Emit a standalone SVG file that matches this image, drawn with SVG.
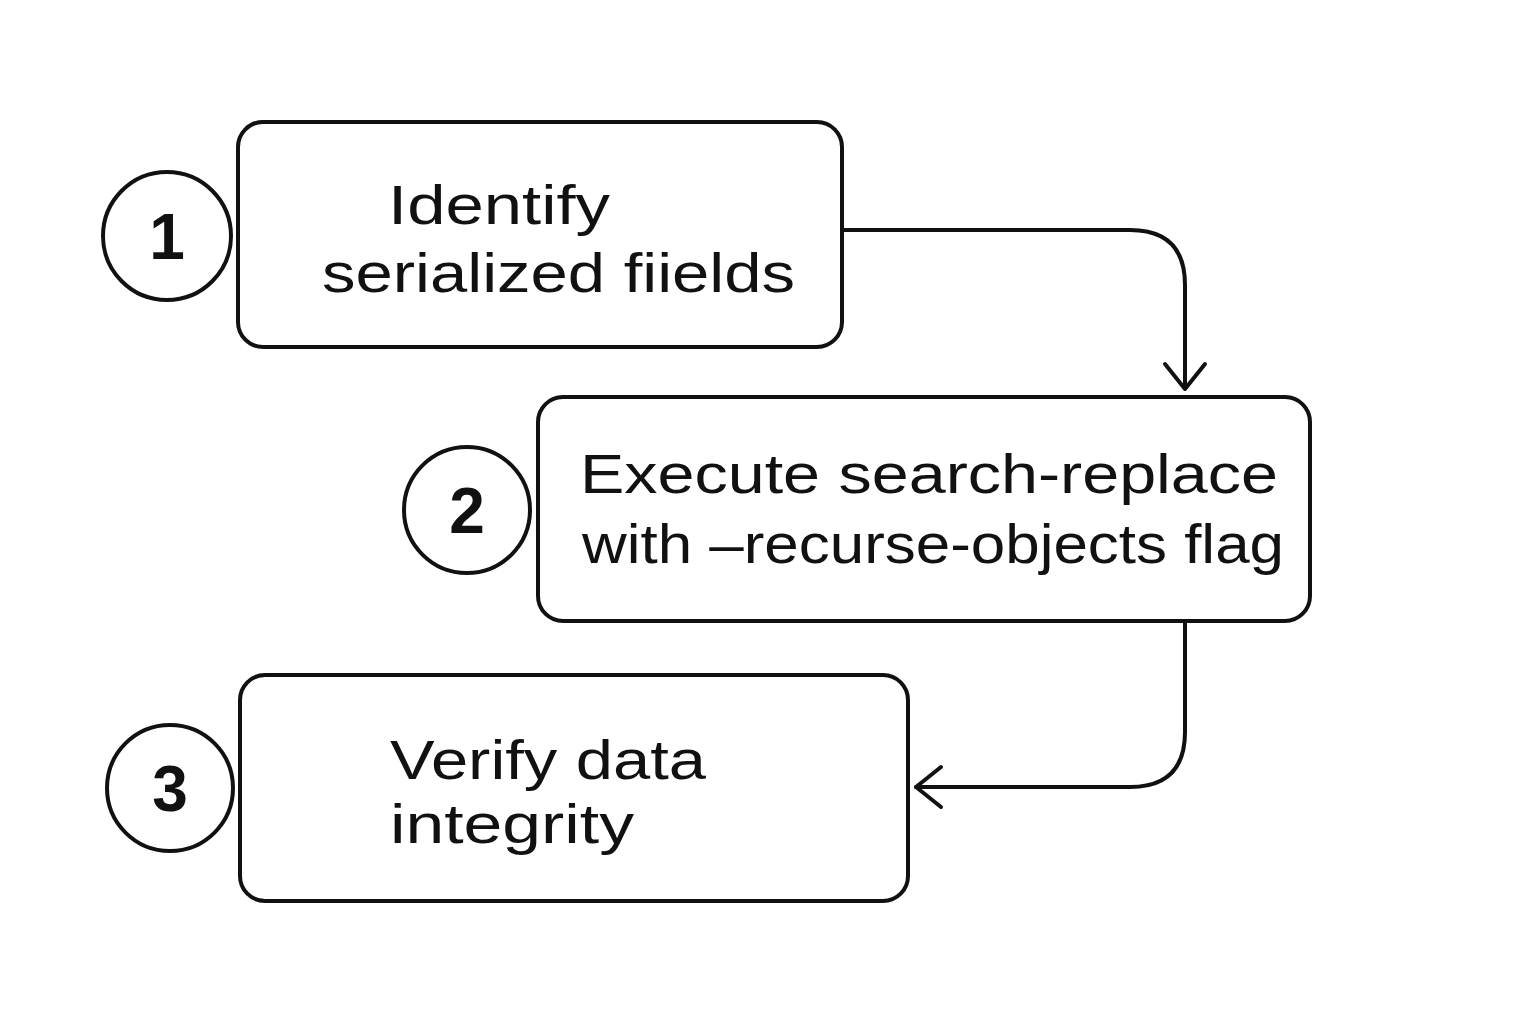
<svg xmlns="http://www.w3.org/2000/svg" width="1536" height="1024" viewBox="0 0 1536 1024">
<style>
.b{fill:#fff;stroke:#111;stroke-width:4}
.t{font-family:"Liberation Sans",Arial,sans-serif;font-size:56px;fill:#111;font-weight:500}
.n{font-family:"Liberation Sans",Arial,sans-serif;font-size:64px;fill:#111;font-weight:bold;text-anchor:middle}
.c{fill:none;stroke:#111;stroke-width:4;stroke-linecap:round;stroke-linejoin:round}
</style>
<rect width="1536" height="1024" fill="#fff"/>
<g id="connectors">
<path class="c" d="M842 230 H1130 Q1185 230 1185 285 V388"/>
<path class="c" d="M1165 364 L1185 389 L1205 364"/>
<path class="c" d="M1185 621 V732 Q1185 787 1130 787 H916"/>
<path class="c" d="M941 767 L916 787 L941 807"/>
</g>
<g id="step1">
<circle class="b" cx="167" cy="236" r="64"/>
<text class="n" x="167" y="259">1</text>
<rect class="b" x="238" y="122" width="604" height="225" rx="25"/>
<text class="t" x="388" y="224" textLength="222" lengthAdjust="spacingAndGlyphs">Identify</text>
<text class="t" x="322" y="292" textLength="473" lengthAdjust="spacingAndGlyphs">serialized fiields</text>
</g>
<g id="step2">
<circle class="b" cx="467" cy="510" r="63"/>
<text class="n" x="467" y="533">2</text>
<rect class="b" x="538" y="397" width="772" height="224" rx="25"/>
<text class="t" x="580" y="493" textLength="698" lengthAdjust="spacingAndGlyphs">Execute search-replace</text>
<text class="t" x="582" y="563" textLength="702" lengthAdjust="spacingAndGlyphs">with –recurse-objects flag</text>
</g>
<g id="step3">
<circle class="b" cx="170" cy="788" r="63"/>
<text class="n" x="170" y="811">3</text>
<rect class="b" x="240" y="675" width="668" height="226" rx="25"/>
<text class="t" x="390" y="779" textLength="316" lengthAdjust="spacingAndGlyphs">Verify data</text>
<text class="t" x="390" y="843" textLength="244" lengthAdjust="spacingAndGlyphs">integrity</text>
</g>
</svg>
